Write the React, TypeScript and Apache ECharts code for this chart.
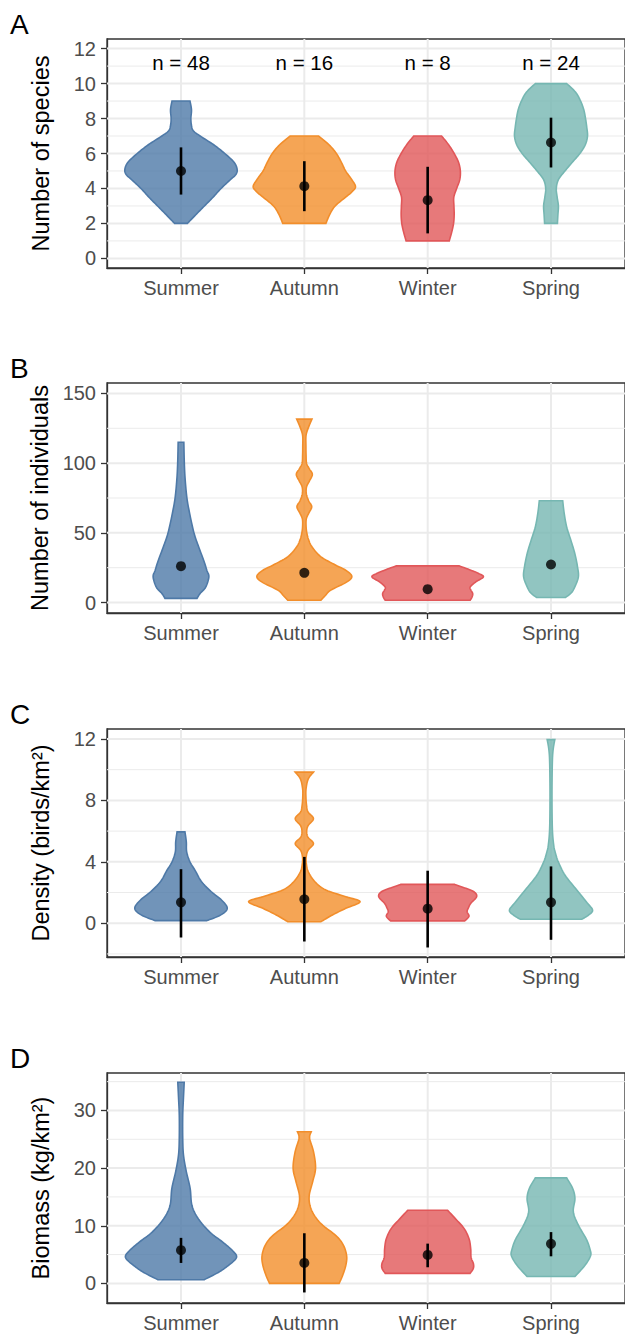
import React, { useEffect, useRef } from "react";
import * as echarts from "echarts";

const FONT = "Liberation Sans, Arial, Helvetica, sans-serif";
const SEASONS = ["Summer", "Autumn", "Winter", "Spring"];
const CAT_POS = [1, 2, 3, 4];
const COLORS = ["#4E79A7", "#F28E2B", "#E15759", "#76B7B2"];
const XMIN = 0.4;
const XMAX = 4.6;

// ---------- Panel A: Number of species ----------
const A_TICKS = [0, 2, 4, 6, 8, 10, 12];
const A_MINOR = [1, 3, 5, 7, 9, 11];
const A_N_LABELS = ["n = 48", "n = 16", "n = 8", "n = 24"];
const A_N_Y = 11.2;
const A_MEAN = [5.0, 4.13, 3.33, 6.63];
const A_LO = [3.65, 2.7, 1.43, 5.2];
const A_HI = [6.35, 5.56, 5.24, 8.05];
// violin profiles: [value, half width in category units]
const A_SUMMER = [[2.0, 0.052], [2.5, 0.12], [3.0, 0.19], [3.5, 0.26], [4.0, 0.325], [4.5, 0.4], [4.8, 0.445], [5.1, 0.455], [5.5, 0.43], [6.0, 0.355], [6.5, 0.265], [7.0, 0.155], [7.3, 0.1], [7.6, 0.085], [8.0, 0.08], [8.5, 0.085], [9.0, 0.073]];
const A_AUTUMN = [[2, 0.175], [2.5, 0.205], [3, 0.25], [3.5, 0.335], [3.8, 0.385], [4.1, 0.415], [4.5, 0.385], [5, 0.335], [5.5, 0.3], [6, 0.26], [6.5, 0.2], [7, 0.115]];
const A_WINTER = [[1, 0.175], [1.5, 0.195], [2, 0.21], [2.5, 0.215], [3, 0.213], [3.5, 0.212], [4, 0.235], [4.5, 0.26], [5, 0.265], [5.5, 0.25], [6, 0.215], [6.5, 0.17], [7, 0.113]];
const A_SPRING = [[2, 0.052], [2.5, 0.056], [3, 0.06], [3.5, 0.05], [4, 0.043], [4.5, 0.06], [5, 0.113], [5.5, 0.173], [6, 0.234], [6.5, 0.278], [7, 0.296], [7.5, 0.29], [8, 0.28], [8.5, 0.266], [9, 0.24], [9.5, 0.2], [10, 0.127]];

// ---------- Panel B: Number of individuals ----------
const B_TICKS = [0, 50, 100, 150];
const B_MINOR = [25, 75, 125];
const B_MEAN = [26.1, 21.3, 9.6, 27.3];
const B_SUMMER = [[3, 0.13], [6.5, 0.155], [11, 0.2], [18.4, 0.226], [23, 0.21], [30, 0.185], [40, 0.143], [50, 0.105], [64, 0.07], [75, 0.048], [88, 0.034], [100, 0.027], [115, 0.023]];
const B_AUTUMN = [[1.7, 0.135], [5, 0.17], [8.9, 0.215], [14.8, 0.345], [18.9, 0.385], [23.2, 0.335], [26.8, 0.255], [32.8, 0.135], [40, 0.062], [45, 0.035], [50, 0.02], [55, 0.014], [60, 0.016], [64, 0.035], [68.7, 0.06], [73, 0.035], [78, 0.016], [83, 0.018], [87, 0.04], [91.9, 0.065], [96, 0.04], [100, 0.018], [106, 0.014], [112, 0.013], [120, 0.014], [126, 0.035], [131.6, 0.062]];
const B_WINTER = [[1.7, 0.345], [4, 0.36], [6.5, 0.365], [9, 0.35], [11.2, 0.345], [14.8, 0.39], [18.4, 0.452], [21, 0.41], [23.2, 0.35], [26.3, 0.255]];
const B_SPRING = [[3.6, 0.117], [7, 0.165], [11.2, 0.193], [18.4, 0.222], [25.6, 0.215], [35.2, 0.193], [44.7, 0.161], [54.3, 0.127], [64, 0.107], [73, 0.095]];

// ---------- Panel C: Density ----------
const C_TICKS = [0, 4, 8, 12];
const C_MINOR = [-2, 2, 6, 10];
const C_MEAN = [1.36, 1.56, 0.95, 1.36];
const C_LO = [-0.93, -1.19, -1.58, -1.08];
const C_HI = [3.52, 4.32, 3.42, 3.7];
const C_SUMMER = [[0.17, 0.21], [0.54, 0.323], [0.97, 0.375], [1.5, 0.33], [2.05, 0.246], [2.7, 0.167], [3.35, 0.121], [4.0, 0.073], [4.65, 0.046], [5.3, 0.043], [5.95, 0.032]];
const C_AUTUMN = [[0.1, 0.135], [0.54, 0.228], [0.97, 0.336], [1.4, 0.452], [1.73, 0.336], [2.16, 0.175], [2.7, 0.086], [3.35, 0.032], [3.9, 0.016], [4.32, 0.015], [4.75, 0.03], [5.19, 0.074], [5.6, 0.03], [5.95, 0.019], [6.35, 0.03], [6.81, 0.074], [7.25, 0.03], [7.68, 0.018], [8.2, 0.013], [8.76, 0.014], [9.4, 0.032], [9.84, 0.074]];
const C_WINTER = [[0.15, 0.3], [0.45, 0.335], [0.75, 0.32], [1.0, 0.33], [1.3, 0.35], [1.73, 0.397], [2.05, 0.375], [2.3, 0.3], [2.53, 0.218]];
const C_SPRING = [[0.26, 0.25], [0.54, 0.306], [0.86, 0.337], [1.4, 0.286], [2.27, 0.198], [3.14, 0.113], [4.0, 0.059], [4.6, 0.035], [5.08, 0.022], [6.16, 0.011], [8.3, 0.008], [10.5, 0.011], [11.35, 0.018], [11.96, 0.031]];

// ---------- Panel D: Biomass ----------
const D_TICKS = [0, 10, 20, 30];
const D_MINOR = [5, 15, 25, 35];
const D_MEAN = [5.76, 3.55, 4.94, 6.86];
const D_LO = [3.55, -1.57, 2.8, 4.7];
const D_HI = [7.9, 8.7, 6.9, 8.9];
const D_SUMMER = [[0.64, 0.188], [1.9, 0.302], [3.1, 0.383], [4.5, 0.45], [5.7, 0.417], [7.2, 0.336], [8.9, 0.234], [11.2, 0.141], [13.5, 0.089], [16.5, 0.074], [19.4, 0.043], [22.3, 0.02], [25.2, 0.014], [29.2, 0.014], [32.2, 0.02], [34.9, 0.026]];
const D_AUTUMN = [[0, 0.282], [1.3, 0.309], [3.1, 0.336], [4.8, 0.343], [6.7, 0.315], [8.3, 0.256], [10.1, 0.148], [11.8, 0.081], [13.5, 0.046], [15.3, 0.04], [17.6, 0.067], [20.0, 0.091], [22.8, 0.075], [25.2, 0.043], [26.3, 0.056]];
const D_WINTER = [[1.74, 0.344], [2.6, 0.37], [3.4, 0.371], [4.5, 0.352], [6.0, 0.349], [7.7, 0.336], [9.5, 0.296], [11.2, 0.226], [12.7, 0.161]];
const D_SPRING = [[1.2, 0.194], [3.1, 0.274], [4.8, 0.321], [6.0, 0.315], [7.7, 0.286], [10.1, 0.222], [12.4, 0.181], [14.7, 0.194], [16.45, 0.176], [18.3, 0.127]];

const PANELS = [
  { letter: "A", title: "Number of species", top: 39, height: 229, min: -0.55, max: 12.55, ticks: A_TICKS, minor: A_MINOR, violins: [A_SUMMER, A_AUTUMN, A_WINTER, A_SPRING], mean: A_MEAN, lo: A_LO, hi: A_HI, nLabels: A_N_LABELS, nY: A_N_Y },
  { letter: "B", title: "Number of individuals", top: 383, height: 230, min: -7.5, max: 157.5, ticks: B_TICKS, minor: B_MINOR, violins: [B_SUMMER, B_AUTUMN, B_WINTER, B_SPRING], mean: B_MEAN, lo: null, hi: null, nLabels: null, nY: 0 },
  { letter: "C", title: "Density (birds/km²)", top: 729, height: 228, min: -2.2, max: 12.65, ticks: C_TICKS, minor: C_MINOR, violins: [C_SUMMER, C_AUTUMN, C_WINTER, C_SPRING], mean: C_MEAN, lo: C_LO, hi: C_HI, nLabels: null, nY: 0 },
  { letter: "D", title: "Biomass (kg/km²)", top: 1073, height: 230, min: -3.4, max: 36.5, ticks: D_TICKS, minor: D_MINOR, violins: [D_SUMMER, D_AUTUMN, D_WINTER, D_SPRING], mean: D_MEAN, lo: D_LO, hi: D_HI, nLabels: null, nY: 0 },
];

function rgba(hex: string, a: number) {
  const n = parseInt(hex.slice(1), 16);
  return `rgba(${(n >> 16) & 255},${(n >> 8) & 255},${n & 255},${a})`;
}

function catmull(pts: number[][]) {
  const out: number[][] = [];
  const n = pts.length;
  const steps = 8;
  for (let i = 0; i < n - 1; i++) {
    const p0 = pts[Math.max(0, i - 1)];
    const p1 = pts[i];
    const p2 = pts[i + 1];
    const p3 = pts[Math.min(n - 1, i + 2)];
    for (let k = 0; k < steps; k++) {
      const t = k / steps;
      const t2 = t * t;
      const t3 = t2 * t;
      const f = (a: number, b: number, c: number, d: number) =>
        0.5 * (2 * b + (-a + c) * t + (2 * a - 5 * b + 4 * c - d) * t2 + (-a + 3 * b - 3 * c + d) * t3);
      out.push([f(p0[0], p1[0], p2[0], p3[0]), f(p0[1], p1[1], p2[1], p3[1])]);
    }
  }
  out.push(pts[n - 1]);
  return out;
}

function buildOption() {
  const grids: any[] = [];
  const xAxes: any[] = [];
  const yAxes: any[] = [];
  const series: any[] = [];
  const graphics: any[] = [];

  PANELS.forEach((p, i) => {
    grids.push({
      left: 107,
      top: p.top,
      width: 522,
      height: p.height,
      show: true,
      borderColor: "#333333",
      borderWidth: 1.3,
      backgroundColor: "transparent",
    });
    xAxes.push({
      gridIndex: i,
      type: "value",
      min: XMIN,
      max: XMAX,
      axisLine: { show: true, onZero: false, lineStyle: { color: "#333333", width: 1.3 } },
      axisTick: { show: true, customValues: CAT_POS, length: 6, lineStyle: { color: "#333333", width: 1.3 } },
      axisLabel: {
        show: true,
        customValues: CAT_POS,
        formatter: (v: number) => SEASONS[Math.round(v) - 1] || "",
        color: "#4D4D4D",
        fontSize: 20,
        fontFamily: FONT,
        margin: 10,
      },
      splitLine: { show: false },
    });
    yAxes.push({
      gridIndex: i,
      type: "value",
      min: p.min,
      max: p.max,
      name: p.title,
      nameLocation: "middle",
      nameGap: 54,
      nameTextStyle: { color: "#000000", fontSize: 23.5, fontFamily: FONT },
      axisLine: { show: true, onZero: false, lineStyle: { color: "#333333", width: 1.3 } },
      axisTick: { show: true, customValues: p.ticks, length: 6, lineStyle: { color: "#333333", width: 1.3 } },
      axisLabel: { show: true, customValues: p.ticks, color: "#4D4D4D", fontSize: 20, fontFamily: FONT, margin: 11 },
      splitLine: { show: false },
    });

    // grid lines
    const gridData: number[][] = [];
    p.ticks.forEach((v) => gridData.push([1, v, 0]));
    p.minor.forEach((v) => gridData.push([1, v, 1]));
    CAT_POS.forEach((c) => gridData.push([c, p.min, 2]));
    series.push({
      type: "custom",
      xAxisIndex: i,
      yAxisIndex: i,
      silent: true,
      z: 1,
      data: gridData,
      renderItem: (params: any, api: any) => {
        const kind = api.value(2);
        const v = kind === 2 ? api.value(0) : api.value(1);
        let a, b;
        if (kind === 2) {
          a = api.coord([v, p.min]);
          b = api.coord([v, p.max]);
        } else {
          a = api.coord([XMIN, v]);
          b = api.coord([XMAX, v]);
        }
        return {
          type: "line",
          shape: { x1: a[0], y1: a[1], x2: b[0], y2: b[1] },
          style: { stroke: "#EBEBEB", lineWidth: kind === 1 ? 1 : 2 },
        };
      },
    });

    // violins
    series.push({
      type: "custom",
      name: p.letter + " violins",
      xAxisIndex: i,
      yAxisIndex: i,
      z: 3,
      data: CAT_POS.map((c) => [c, p.violins[c - 1][0][0]]),
      renderItem: (params: any, api: any) => {
        const idx = params.dataIndex;
        const cx = api.value(0);
        const prof = p.violins[idx];
        const right = prof.map(([v, hw]) => api.coord([cx + hw, v]));
        const left = prof.map(([v, hw]) => api.coord([cx - hw, v]));
        const pts = catmull(right).concat(catmull(left).reverse());
        return {
          type: "polygon",
          shape: { points: pts },
          style: { fill: rgba(COLORS[idx], 0.8), stroke: COLORS[idx], lineWidth: 1.6 },
        };
      },
    });

    // error bars
    if (p.lo && p.hi) {
      const lo = p.lo;
      const hi = p.hi;
      series.push({
        type: "custom",
        xAxisIndex: i,
        yAxisIndex: i,
        z: 4,
        data: CAT_POS.map((c, k) => [c, lo[k], hi[k]]),
        renderItem: (params: any, api: any) => {
          const a = api.coord([api.value(0), api.value(1)]);
          const b = api.coord([api.value(0), api.value(2)]);
          return {
            type: "line",
            shape: { x1: a[0], y1: a[1], x2: b[0], y2: b[1] },
            style: { stroke: "#000000", lineWidth: 2.6 },
          };
        },
      });
    }

    // means
    series.push({
      type: "scatter",
      xAxisIndex: i,
      yAxisIndex: i,
      z: 5,
      symbol: "circle",
      symbolSize: 10,
      itemStyle: { color: "#000000" },
      data: CAT_POS.map((c, k) => [c, p.mean[k]]),
    });

    // n labels
    if (p.nLabels) {
      const labels = p.nLabels;
      series.push({
        type: "custom",
        xAxisIndex: i,
        yAxisIndex: i,
        z: 6,
        data: CAT_POS.map((c) => [c, p.nY]),
        renderItem: (params: any, api: any) => {
          const pt = api.coord([api.value(0), api.value(1)]);
          return {
            type: "text",
            x: pt[0],
            y: pt[1],
            style: {
              text: labels[params.dataIndex],
              fill: "#000000",
              fontSize: 20.5,
              fontFamily: FONT,
              align: "center",
              verticalAlign: "middle",
            },
          };
        },
      });
    }

    graphics.push({
      type: "text",
      left: 10,
      top: p.top - 29,
      style: { text: p.letter, fill: "#000000", fontSize: 28, fontFamily: FONT },
    });
  });

  return {
    animation: false,
    backgroundColor: "#FFFFFF",
    grid: grids,
    xAxis: xAxes,
    yAxis: yAxes,
    series,
    graphic: graphics,
  };
}

export default function App() {
  const ref = useRef<HTMLDivElement>(null);
  useEffect(() => {
    if (!ref.current) return;
    const chart = echarts.init(ref.current, undefined, { renderer: "svg" });
    chart.setOption(buildOption() as any);
    return () => chart.dispose();
  }, []);
  return (
    <div
      ref={ref}
      style={{ position: "absolute", left: 0, top: 0, width: 625, height: 1334, background: "#fff" }}
    />
  );
}
